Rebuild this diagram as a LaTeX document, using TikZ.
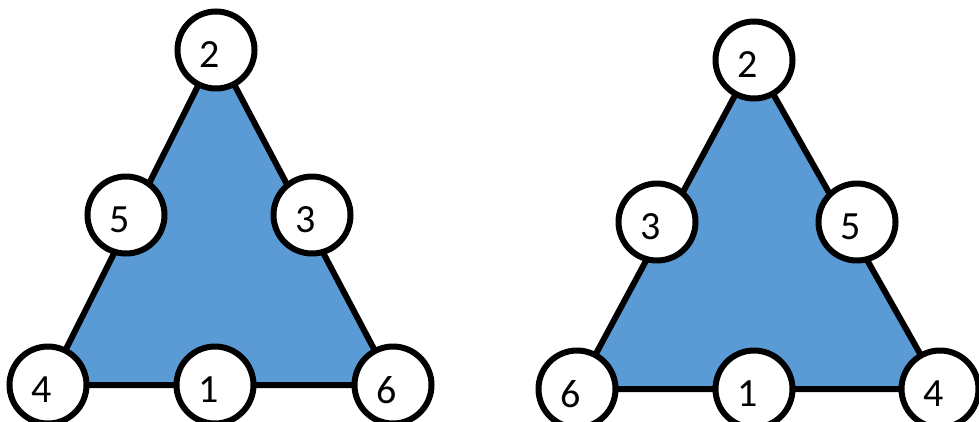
\documentclass[tikz,border=0pt]{standalone}
\usepackage{fontspec}
\setmainfont{Carlito}
\usepackage{tikz}
\usetikzlibrary{backgrounds}
\definecolor{TriBlue}{RGB}{91,155,213}

\begin{document}
\begin{tikzpicture}[
    x=1pt, y=-1pt,
    num/.style={
        circle, draw=black, line width=6pt,
        fill=white, inner sep=0pt,
        minimum size=77pt,
        label={[digit]center:#1}
    },
    digit/.style={
        font=\fontsize{40}{46}\selectfont,
        xshift=-6pt, yshift=-5pt
    },
    tri/.style={fill=TriBlue, draw=black, line width=6pt, line join=miter}
]
\useasboundingbox (0,0) rectangle (979,421);
\clip (0,0) rectangle (979,421);

% Left triangle
\node[num=2] (l2) at (216,50) {};
\node[num=5] (l5) at (126,215) {};
\node[num=3] (l3) at (312,215) {};
\node[num=4] (l4) at (48,385) {};
\node[num=1] (l1) at (215,385) {};
\node[num=6] (l6) at (393,385) {};

% Right triangle
\node[num=2] (r2) at (754,60) {};
\node[num=3] (r3) at (657,222) {};
\node[num=5] (r5) at (857,222) {};
\node[num=6] (r6) at (577,389) {};
\node[num=1] (r1) at (754,389) {};
\node[num=4] (r4) at (940,389) {};

\begin{scope}[on background layer]
\draw[tri] (l2.center) -- (l4.center) -- (l6.center) -- cycle;
\draw[tri] (r2.center) -- (r6.center) -- (r4.center) -- cycle;
\end{scope}

\end{tikzpicture}
\end{document}
